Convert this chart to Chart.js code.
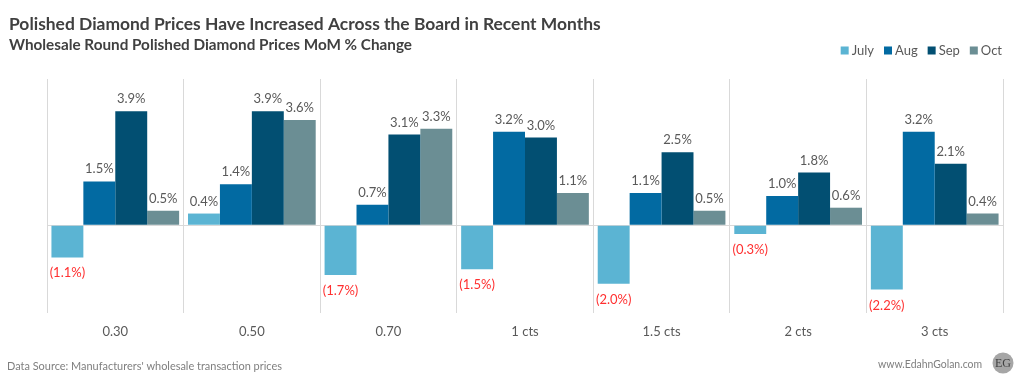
<!DOCTYPE html>
<html><head><meta charset="utf-8">
<script src="https://cdn.jsdelivr.net/npm/chart.js@4/dist/chart.umd.min.js"></script>
<style>html,body{margin:0;padding:0;background:#fff;}#wrap{width:1024px;height:380px;}</style>
</head><body><div id="wrap"><canvas id="c" width="1024" height="380"></canvas></div>
<script>
// ---- data ----
const categories = ['0.30', '0.50', '0.70', '1 cts', '1.5 cts', '2 cts', '3 cts'];
const seriesNames = ['July', 'Aug', 'Sep', 'Oct'];
const july = [-1.1, 0.4, -1.7, -1.5, -2.0, -0.3, -2.2];
const aug  = [1.5, 1.4, 0.7, 3.2, 1.1, 1.0, 3.2];
const sep  = [3.9, 3.9, 3.1, 3.0, 2.5, 1.8, 2.1];
const oct  = [0.5, 3.6, 3.3, 1.1, 0.5, 0.6, 0.4];
const seriesColors = ['#5BB4D3', '#026AA2', '#024F72', '#6B8E94'];
const titleText = 'Polished Diamond Prices Have Increased Across the Board in Recent Months';
const subtitleText = 'Wholesale Round Polished Diamond Prices MoM % Change';
const sourceText = "Data Source: Manufacturers' wholesale transaction prices";
const siteText = 'www.EdahnGolan.com';
const logoText = 'EG';

const FONT = 'Lato, "Open Sans", sans-serif';

function fitText(ctx, text, x, y, width, weight, color) {
  ctx.save();
  ctx.font = weight + ' 100px ' + FONT;
  const w = ctx.measureText(text).width;
  const size = 100 * width / w;
  ctx.font = weight + ' ' + size.toFixed(2) + 'px ' + FONT;
  ctx.fillStyle = color;
  ctx.textAlign = 'left';
  ctx.textBaseline = 'alphabetic';
  ctx.fillText(text, x, y);
  ctx.restore();
}

const decorPlugin = {
  id: 'decor',
  afterDraw(chart) {
    const ctx = chart.ctx;
    fitText(ctx, titleText, 9, 30, 592, 'bold', '#404040');
    fitText(ctx, subtitleText, 9, 50, 403, 'bold', '#404040');
    fitText(ctx, sourceText, 7, 370, 275, 'normal', '#7F7F7F');
    fitText(ctx, siteText, 878, 368, 104, 'normal', '#7F7F7F');
    // logo
    ctx.save();
    ctx.beginPath();
    ctx.arc(1003, 363, 10.5, 0, Math.PI * 2);
    ctx.fillStyle = '#A6A6A6';
    ctx.fill();
    ctx.fillStyle = '#3F3F3F';
    ctx.font = '12px "Liberation Serif", serif';
    ctx.textAlign = 'center';
    ctx.textBaseline = 'middle';
    ctx.fillText(logoText, 1003, 364);
    ctx.restore();
    // legend
    ctx.save();
    ctx.font = '13px ' + FONT;
    const ds = chart.data.datasets;
    const box = 8, gapText = 3, gapItem = 10;
    let total = 0;
    const widths = ds.map(d => ctx.measureText(d.label).width);
    widths.forEach((w, i) => { total += box + gapText + w + (i < widths.length - 1 ? gapItem : 0); });
    let x = 1002 - total;
    ds.forEach((d, i) => {
      ctx.fillStyle = d.backgroundColor;
      ctx.fillRect(x, 46.5, box, box);
      ctx.fillStyle = '#595959';
      ctx.textBaseline = 'alphabetic';
      ctx.textAlign = 'left';
      ctx.fillText(d.label, x + box + gapText, 54.5);
      x += box + gapText + widths[i] + gapItem;
    });
    ctx.restore();
  },
  afterDatasetsDraw(chart) {
    const ctx = chart.ctx;
    ctx.save();
    ctx.font = '13px ' + FONT;
    ctx.textAlign = 'center';
    ctx.textBaseline = 'alphabetic';
    chart.data.datasets.forEach((d, i) => {
      const meta = chart.getDatasetMeta(i);
      meta.data.forEach((bar, j) => {
        const v = d.data[j];
        if (v < 0) {
          ctx.fillStyle = '#FF3030';
          ctx.fillText('(' + Math.abs(v).toFixed(1) + '%)', bar.x, bar.y + 20);
        } else {
          ctx.fillStyle = '#595959';
          ctx.fillText(v.toFixed(1) + '%', bar.x, bar.y - 8);
        }
      });
    });
    ctx.restore();
  }
};

const seriesData = [july, aug, sep, oct];
new Chart(document.getElementById('c'), {
  type: 'bar',
  data: {
    labels: categories,
    datasets: seriesNames.map((n, i) => ({
      label: n,
      data: seriesData[i],
      backgroundColor: seriesColors[i],
      borderWidth: 0,
      categoryPercentage: 0.935,
      barPercentage: 1
    }))
  },
  options: {
    responsive: false,
    devicePixelRatio: 1,
    animation: false,
    layout: { padding: { left: 47, right: 21, top: 79, bottom: 0 } },
    plugins: { legend: { display: false }, tooltip: { enabled: false }, title: { display: false } },
    scales: {
      x: {
        offset: true,
        grid: { offset: true, color: '#D9D9D9', lineWidth: 1, drawTicks: false },
        border: { display: false },
        ticks: { color: '#595959', font: { family: FONT, size: 13 }, padding: 11 },
        afterFit(scale) { scale.height = 67; }
      },
      y: {
        min: -3, max: 5,
        grid: { color: ctx => (ctx.tick && ctx.tick.value === 0 ? '#D9D9D9' : 'rgba(0,0,0,0)'), drawTicks: false },
        border: { display: false },
        ticks: { display: false, stepSize: 1 },
        afterFit(scale) { scale.width = 0; }
      }
    }
  },
  plugins: [decorPlugin]
});
</script>
</body></html>
